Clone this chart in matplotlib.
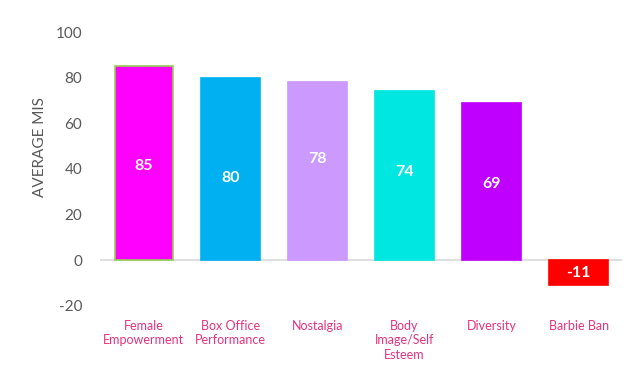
import numpy as np
import matplotlib
matplotlib.use("Agg")
import matplotlib.pyplot as plt

plt.rcParams['font.family'] = ['Lato', 'DejaVu Sans']
plt.rcParams['axes.unicode_minus'] = False

# chart data
categories = ['Female\nEmpowerment', 'Box Office\nPerformance', 'Nostalgia',
              'Body\nImage/Self\nEsteem', 'Diversity', 'Barbie Ban']
values = [85, 80, 78, 74, 69, -11]
colours = ['#FF00FF', '#00B0F0', '#CC99FF', '#00E6E0', '#C000FF', '#FF0000']
edges = ['#92D050', '#00B0F0', '#CC99FF', '#00E6E0', '#C000FF', '#FF0000']
# where the value labels sit (data units), as placed in the original
label_y = [41.5, 36, 44.5, 38.5, 33.5, -5.5]

fig = plt.figure(figsize=(6.42, 3.81), dpi=100)
ax = fig.add_axes([0.156, 0.197, 0.813, 0.719])

x = np.arange(len(categories))
ax.bar(x, values, width=0.67, color=colours, edgecolor=edges, linewidth=1.2, zorder=2)
ax.axhline(0, color='#D9D9D9', linewidth=1.2, zorder=1)

for xi, v, ly in zip(x, values, label_y):
    ax.text(xi, ly, str(v), ha='center', va='center', color='white',
            fontsize=11.5, fontweight='bold', zorder=3)

ax.set_xlim(-0.5, len(categories) - 0.5)
ax.set_ylim(-20, 100)
ax.set_yticks(np.arange(-20, 101, 20))
ax.tick_params(axis='y', length=0, labelsize=11, labelcolor='#595959', pad=13)
ax.set_xticks(x)
ax.set_xticklabels(categories, color='#E6337F', fontsize=9, linespacing=1.25)
ax.tick_params(axis='x', length=0, pad=10)
for s in ax.spines.values():
    s.set_visible(False)

ax.set_ylabel('AVERAGE MIS', fontsize=11, color='#595959')
ax.yaxis.set_label_coords(-0.102, 0.58)

fig.savefig('out.png', dpi=100)
